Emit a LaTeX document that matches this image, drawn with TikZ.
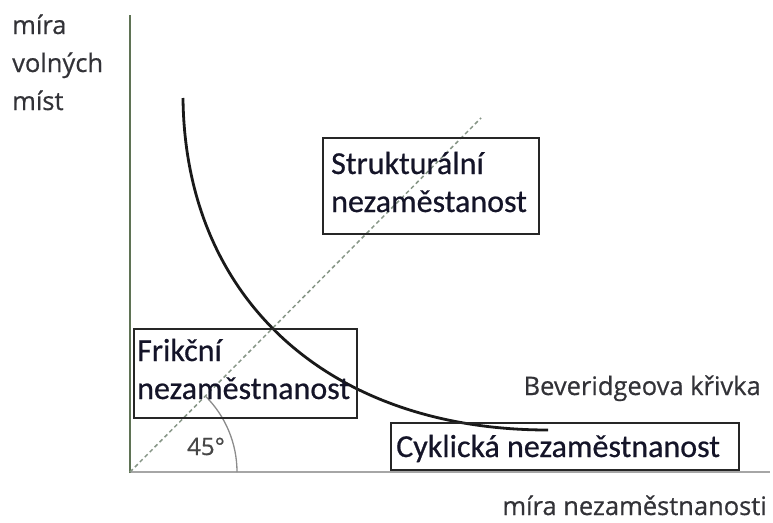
\documentclass[tikz,border=0pt]{standalone}
\usepackage{fontspec}
\newfontfamily\boxfont[FakeBold=0.6]{Carlito}
\newfontfamily\axfont[FakeBold=0.6]{Open Sans}
\definecolor{yaxis}{RGB}{95,115,85}
\definecolor{dashc}{RGB}{135,150,135}
\definecolor{labc}{RGB}{50,50,55}
\definecolor{boxtc}{RGB}{20,20,40}
\begin{document}
\begin{tikzpicture}[x=1pt,y=-1pt,
  axlabel/.style={font=\axfont\fontsize{25.5}{30}\selectfont, text=labc, inner sep=0pt},
  boxtext/.style={font=\boxfont\fontsize{32}{38}\selectfont, text=boxtc, inner sep=0pt, anchor=base west},
  frame/.style={draw=black!85, line width=1.8pt, inner sep=0pt, anchor=north west},
  ]
\useasboundingbox (0,0) rectangle (773,522);
% axes
\coordinate (O) at (130,472);
\coordinate (ytop) at (130,15);
\coordinate (xend) at (770,472);
\coordinate (dend) at (481,118);
\draw[draw=black!35, line width=1.8pt] (O) -- (xend);
\draw[draw=yaxis, line width=1.8pt] (130,473) -- (ytop);
% 45 degree dashed line
\draw[draw=dashc, line width=1.5pt, dash pattern=on 4pt off 3pt] (O) -- (dend);
% angle arc
\draw[draw=black!45, line width=1.3pt] (237,472) arc[start angle=0, end angle=-45, radius=107];
\node[font=\axfont\fontsize{24}{28}\selectfont, text=black!72, inner sep=0pt, anchor=base west] (ang) at (187,455) {45°};
% Beveridge curve
\draw[line width=2.8pt, draw=black!90] (183,98) .. controls (185,300) and (330,430) .. (548,430);
% boxes
\node[frame, minimum width=223pt, minimum height=89pt] (frbox) at (133,328) {};
\node[boxtext] (fr1) at (137,361) {Frikční};
\node[boxtext] (fr2) at (137,399) {nezaměstnanost};
\node[frame, minimum width=216pt, minimum height=96pt] (stbox) at (322,137) {};
\node[boxtext] (st1) at (331,174) {Strukturální};
\node[boxtext] (st2) at (331,212) {nezaměstanost};
\node[frame, minimum width=348pt, minimum height=47pt] (cybox) at (390,422) {};
\node[boxtext] (cy1) at (396,457) {Cyklická nezaměstnanost};
% axis labels
\node[axlabel, anchor=base west] (yl1) at (12,34) {míra};
\node[axlabel, anchor=base west] (yl2) at (12,72) {volných};
\node[axlabel, anchor=base west] (yl3) at (12,110) {míst};
\node[axlabel, anchor=base east] (xl) at (767,515) {míra nezaměstnanosti};
\node[axlabel, anchor=base east] (bev) at (761,395) {Beveridgeova křivka};
\end{tikzpicture}
\end{document}
